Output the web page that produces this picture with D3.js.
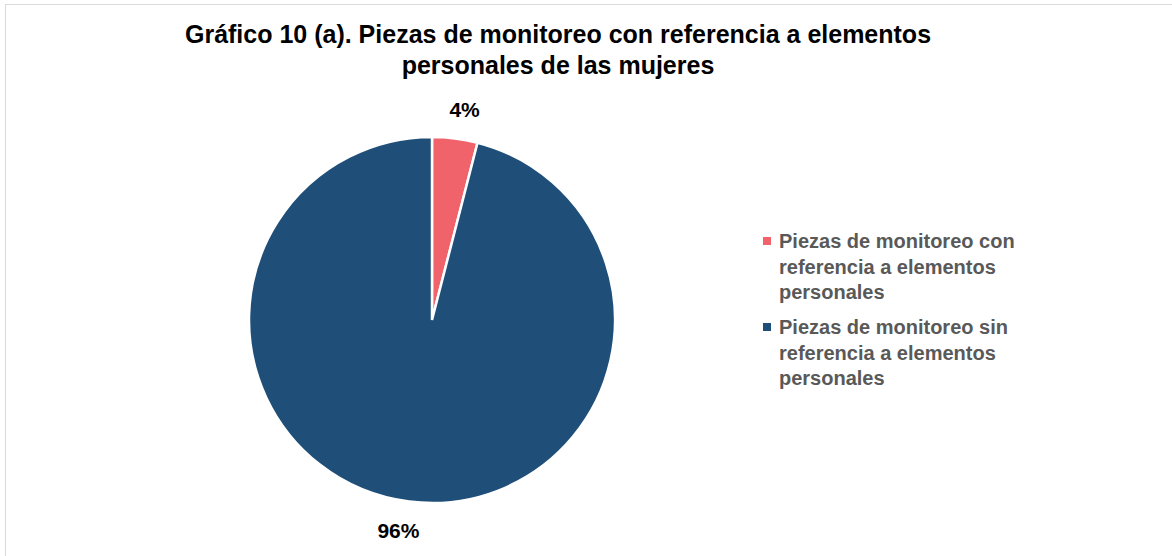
<!DOCTYPE html>
<html>
<head>
<meta charset="utf-8">
<script src="https://cdn.jsdelivr.net/npm/d3@7"></script>
<style>
  body { margin: 0; background: #fff; }
  svg { display: block; font-family: "Liberation Sans", Arial, sans-serif; }
</style>
</head>
<body>
<svg id="chart"></svg>
<script>
// Chart data
const categories = ['Piezas de monitoreo con referencia a elementos personales', 'Piezas de monitoreo sin referencia a elementos personales'];
const values = [4, 96];
const legendLines = [
  ['Piezas de monitoreo con', 'referencia a elementos', 'personales'],
  ['Piezas de monitoreo sin', 'referencia a elementos', 'personales']
];
const titleLines = ['Gráfico 10 (a). Piezas de monitoreo con referencia a elementos', 'personales de las mujeres'];
const colors = ['#F0636A', '#1F4E79'];

const width = 1172, height = 556;
const svg = d3.select('#chart').attr('width', width).attr('height', height);

// outer frame (only top and left edges show)
svg.append('rect')
  .attr('x', 5.5).attr('y', 4.5)
  .attr('width', width + 10).attr('height', height + 10)
  .attr('fill', 'none').attr('stroke', '#d9d9d9').attr('stroke-width', 1);

// title
svg.append('g').selectAll('text')
  .data(titleLines)
  .join('text')
    .attr('x', 558)
    .attr('y', (d, i) => 43 + i * 31)
    .attr('text-anchor', 'middle')
    .style('font-size', '25px')
    .style('font-weight', 'bold')
    .style('fill', '#000')
    .text(d => d);

// pie
const cx = 432, cy = 320, radius = 183;
const g = svg.append('g').attr('transform', `translate(${cx},${cy})`);
const data = categories.map((c, i) => ({ label: c, value: values[i], color: colors[i] }));
const pie = d3.pie().value(d => d.value).sort(null);
const arc = d3.arc().innerRadius(0).outerRadius(radius);
const labelArc = d3.arc().innerRadius(212).outerRadius(212);

g.selectAll('path')
  .data(pie(data))
  .join('path')
    .attr('d', arc)
    .attr('fill', d => d.data.color)
    .attr('stroke', '#fff')
    .attr('stroke-width', 2.5);

// percentage labels, pushed a little sideways away from the vertical axis
g.selectAll('text.pct')
  .data(pie(data))
  .join('text')
    .attr('class', 'pct')
    .attr('transform', d => `translate(${labelArc.centroid(d)})`)
    .attr('dx', d => Math.sin((d.startAngle + d.endAngle) / 2) > 0 ? 6 : -7)
    .attr('text-anchor', 'middle')
    .attr('dy', '0.35em')
    .style('font-size', '21px')
    .style('font-weight', 'bold')
    .style('fill', '#000')
    .text(d => `${d.data.value}%`);

// legend
const legend = svg.append('g').attr('transform', 'translate(763,0)');
const items = legend.selectAll('g')
  .data(data)
  .join('g')
    .attr('transform', (d, i) => `translate(0,${241 + i * 86})`);

items.append('rect')
  .attr('x', 0).attr('y', -4)
  .attr('width', 8).attr('height', 8)
  .attr('fill', d => d.color);

items.selectAll('text')
  .data((d, i) => legendLines[i])
  .join('text')
    .attr('x', 16)
    .attr('y', (d, j) => j * 25.5)
    .attr('dy', '0.35em')
    .style('font-size', '20px')
    .style('font-weight', 'bold')
    .style('fill', '#595959')
    .text(d => d);
</script>
</body>
</html>
